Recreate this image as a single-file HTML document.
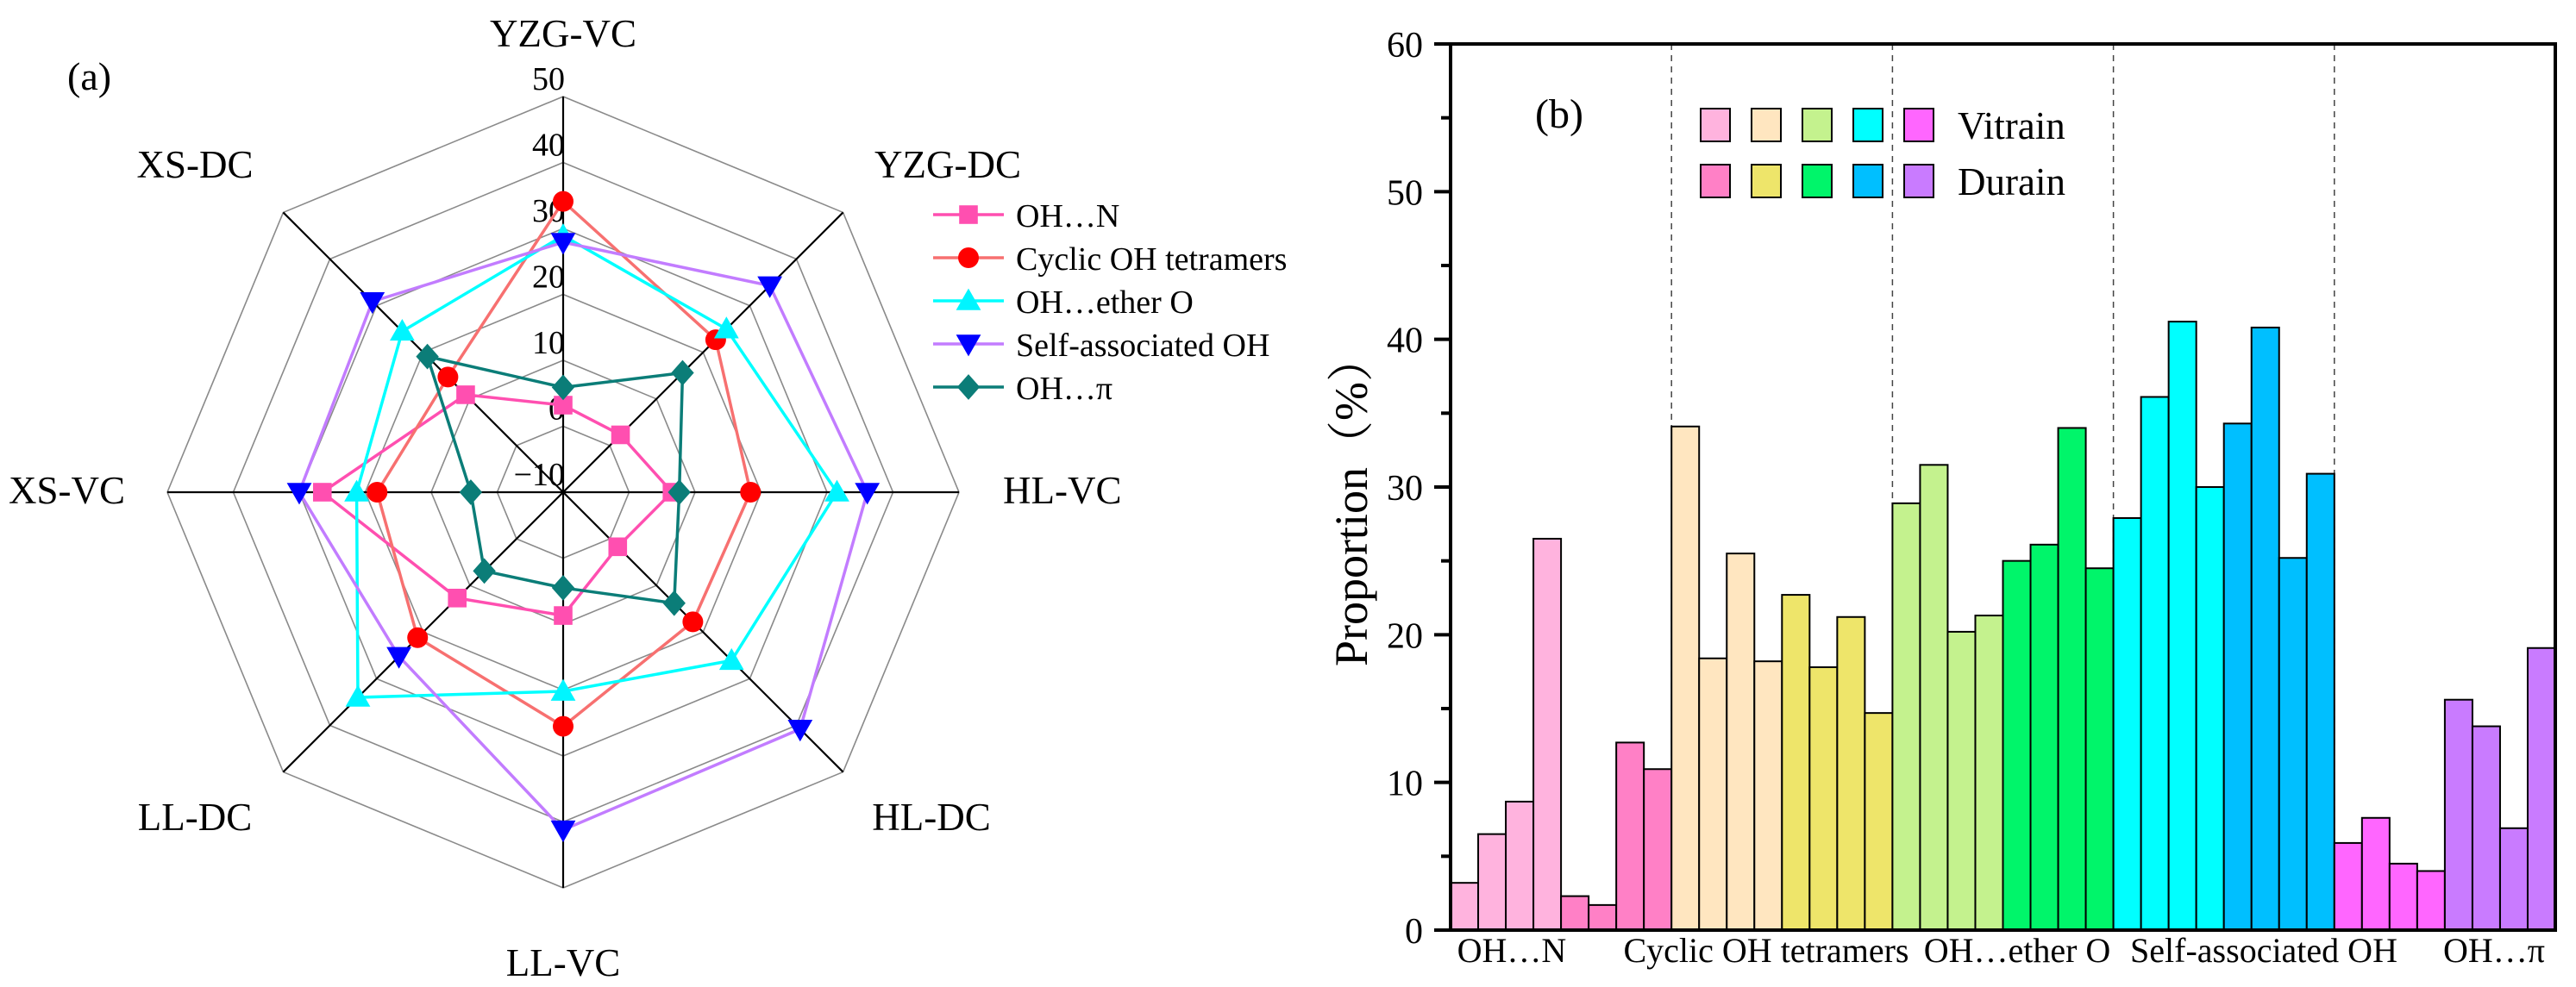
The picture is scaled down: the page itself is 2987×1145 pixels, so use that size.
<!DOCTYPE html>
<html><head><meta charset="utf-8"><style>
html,body{margin:0;padding:0;background:#fff;}
svg{display:block;font-family:"Liberation Serif",serif;}
</style></head><body>
<svg id="svg" width="2987" height="1145" viewBox="0 0 2987 1145" xmlns="http://www.w3.org/2000/svg">
<g id="radar"></g>
<g id="bars"></g>
</svg>
<script>
// ---- Radar data ----
const radarAxes = ["YZG-VC","YZG-DC","HL-VC","HL-DC","LL-VC","LL-DC","XS-VC","XS-DC"];
const radarTicks = [-10,0,10,20,30,40,50];
const seriesNames = ["OH…N","Cyclic OH tetramers","OH…ether O","Self-associated OH","OH…π"];
const sOHN = [3.2,2.3,6.5,1.7,8.7,12.7,26.5,10.9];
const sCyclic = [34.1,22.7,18.4,17.8,25.5,21.2,18.2,14.7];
const sEther = [28.9,25.0,31.5,26.1,20.2,34.0,21.3,24.5];
const sSelf = [27.9,34.3,36.1,40.8,41.2,25.2,30.0,30.9];
const sPi = [5.9,15.6,7.6,13.8,4.5,6.9,4.0,19.1];

// ---- Bar data ----
const barCategories = ["OH…N","Cyclic OH tetramers","OH…ether O","Self-associated OH","OH…π"];
const vitrainValues = [[3.2,6.5,8.7,26.5],[34.1,18.4,25.5,18.2],[28.9,31.5,20.2,21.3],[27.9,36.1,41.2,30.0],[5.9,7.6,4.5,4.0]];
const durainValues = [[2.3,1.7,12.7,10.9],[22.7,17.8,21.2,14.7],[25.0,26.1,34.0,24.5],[34.3,40.8,25.2,30.9],[15.6,13.8,6.9,19.1]];
const barTicks = [0,10,20,30,40,50,60];

const NS="http://www.w3.org/2000/svg";
function mk(tag,attrs,parent){const e=document.createElementNS(NS,tag);for(const k in attrs)e.setAttribute(k,attrs[k]);parent.appendChild(e);return e;}

// ===== Radar =====
const R=document.getElementById('radar');
const cx=653, cy=571, RAD=459, vmin=-10, vmax=50;
function rr(v){return (v-vmin)/(vmax-vmin)*RAD;}
function pt(i,v){const a=-Math.PI/2+i*Math.PI/4;const r=rr(v);return [cx+r*Math.cos(a),cy+r*Math.sin(a)];}
radarTicks.forEach(t=>{
  if(t>vmin){
    const pts=radarAxes.map((_,i)=>pt(i,t).join(',')).join(' ');
    const g=mk('polygon',{points:pts,fill:'none',stroke:'#8a8a8a','stroke-width':1.6},R);
    
    
  }
  const lbl=mk('text',{x:cx+2,y:cy-rr(t)-8,'font-size':38,'text-anchor':'end',fill:'#000'},R);
  lbl.textContent=t<0?'−'+Math.abs(t):String(t);
  
  
});
radarAxes.forEach((name,i)=>{
  const p=pt(i,vmax);
  const l=mk('line',{x1:cx,y1:cy,x2:p[0],y2:p[1],stroke:'#000','stroke-width':2.2},R);
  
  
});
const labelPos=[[653,54,'middle'],[1099,206,'middle'],[1163,584,'start'],[1080,963,'middle'],[653,1132,'middle'],[226,963,'middle'],[10,584,'start'],[226,206,'middle']];
radarAxes.forEach((name,i)=>{
  const t=mk('text',{x:labelPos[i][0],y:labelPos[i][1],'font-size':45,'text-anchor':labelPos[i][2],fill:'#000'},R);
  t.textContent=name;
  
  
});
const ta=mk('text',{x:78,y:104,'font-size':46,fill:'#000'},R);ta.textContent='(a)';



const radarSeries=[sOHN,sCyclic,sEther,sSelf,sPi];
const lineCols=['#ff4fb0','#f77070','#00ffff','#c27cff','#0b7d78'];
const markCols=['#ff4fb0','#ff0000','#00f5ff','#0000ff','#0b7d78'];
const markTypes=['square','circle','tri','dtri','diamond'];
function marker(type,x,y,col,parent,s){
  let e;
  if(type==='square') e=mk('rect',{x:x-s*0.45,y:y-s*0.45,width:s*0.9,height:s*0.9,fill:col},parent);
  else if(type==='circle') e=mk('circle',{cx:x,cy:y,r:s*0.5,fill:col},parent);
  else if(type==='tri') e=mk('polygon',{points:`${x},${y-s*0.6} ${x+s*0.6},${y+s*0.45} ${x-s*0.6},${y+s*0.45}`,fill:col},parent);
  else if(type==='dtri') e=mk('polygon',{points:`${x},${y+s*0.6} ${x+s*0.6},${y-s*0.45} ${x-s*0.6},${y-s*0.45}`,fill:col},parent);
  else e=mk('polygon',{points:`${x},${y-s*0.62} ${x+s*0.55},${y} ${x},${y+s*0.62} ${x-s*0.55},${y}`,fill:col},parent);
  return e;
}
radarSeries.forEach((vals,k)=>{
  const g=mk('g',{},R);
  
  
  const pts=vals.map((v,i)=>pt(i,v).join(',')).join(' ');
  mk('polygon',{points:pts,fill:'none',stroke:lineCols[k],'stroke-width':3.5},g);
  vals.forEach((v,i)=>{const p=pt(i,v);const m=marker(markTypes[k],p[0],p[1],markCols[k],g,24);
    
    });
});
// legend
seriesNames.forEach((n,k)=>{
  const y=249+k*50;
  const g=mk('g',{},R);
  
  
  mk('line',{x1:1082,y1:y,x2:1164,y2:y,stroke:lineCols[k],'stroke-width':3.5},g);
  marker(markTypes[k],1123,y,markCols[k],g,24);
  const t=mk('text',{x:1178,y:y+14,'font-size':38,fill:'#000'},g);t.textContent=n;
});

// ===== Bars =====
const B=document.getElementById('bars');
const x0=1682,x1=2963,y0=1079,y1=51,ymax=60;
const nBars=barCategories.length*8, bw=(x1-x0)/nBars;
function ys(v){return y0-(v/ymax)*(y0-y1);}
const vitCols=['#ffb3de','#ffe6c0','#c4f28e','#00ffff','#ff66ff'];
const durCols=['#ff80c6','#eee56a','#00f56a','#00bfff','#c97bff'];
for(let g=1;g<barCategories.length;g++){
  const x=x0+g*8*bw;
  const d=mk('line',{x1:x,y1:y1,x2:x,y2:y0,stroke:'#444','stroke-width':1.5,'stroke-dasharray':'7,6'},B);
  
  
}
barCategories.forEach((c,g)=>{
  const all=vitrainValues[g].concat(durainValues[g]);
  all.forEach((v,j)=>{
    const x=x0+(g*8+j)*bw;
    const r=mk('rect',{x:x,y:ys(v),width:bw,height:y0-ys(v),fill:j<4?vitCols[g]:durCols[g],stroke:'#000','stroke-width':2},B);
    
    
  });
});
const fr=mk('rect',{x:x0,y:y1,width:x1-x0,height:y0-y1,fill:'none',stroke:'#000','stroke-width':4},B);


for(let v=0;v<=60;v+=5){
  const major=v%10===0;
  const t=mk('line',{x1:x0-(major?19:11),y1:ys(v),x2:x0,y2:ys(v),stroke:'#000','stroke-width':4},B);
  
  
}
barTicks.forEach(v=>{
  const t=mk('text',{x:1650,y:ys(v)+15,'font-size':42,'text-anchor':'end',fill:'#000'},B);
  t.textContent=String(v);
  
  
});
const catX=[1753,2048,2339,2625,2892];
barCategories.forEach((c,g)=>{
  const t=mk('text',{x:catX[g],y:1116,'font-size':40,'text-anchor':'middle',fill:'#000'},B);
  t.textContent=c;
  
  
});
const yt=mk('text',{x:0,y:0,'font-size':54,'text-anchor':'middle',fill:'#000',transform:'translate(1585,581) rotate(-90)'},B);
yt.setAttribute('font-family','"Liberation Serif","Noto Serif CJK SC",serif');
yt.textContent='Proportion（%）';


const tb=mk('text',{x:1808,y:148,'font-size':48,'text-anchor':'middle',fill:'#000'},B);tb.textContent='(b)';


const lgX=[1989,2048,2107,2166,2225];
[[145,vitCols,'Vitrain'],[210,durCols,'Durain']].forEach(row=>{
  const g=mk('g',{},B);
  
  
  lgX.forEach((x,i)=>mk('rect',{x:x-17,y:row[0]-19,width:34,height:38,fill:row[1][i],stroke:'#000','stroke-width':2},g));
  const t=mk('text',{x:2270,y:row[0]+16,'font-size':45,fill:'#000'},g);t.textContent=row[2];
});
</script>
</body></html>
